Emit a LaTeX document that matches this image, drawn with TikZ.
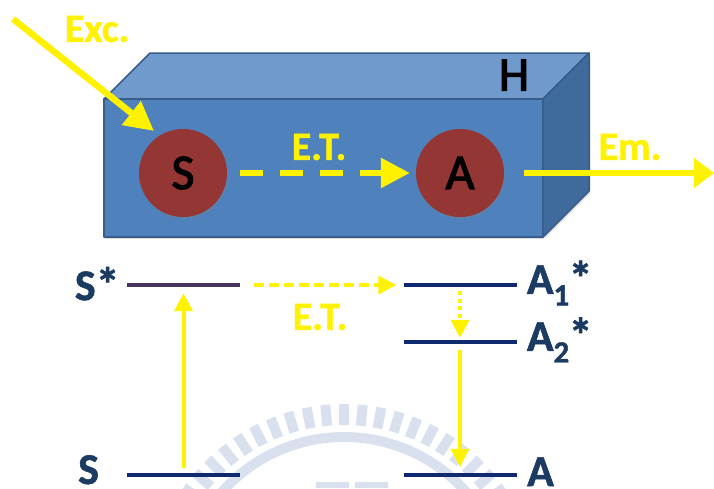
\documentclass[tikz,border=0pt]{standalone}
\usepackage{fontspec}
\setmainfont[BoldFeatures={FakeBold=1.2}]{Carlito}
\newfontfamily\dyefont[FakeBold=2.5]{Carlito}
\usetikzlibrary{arrows.meta,shadows}
\definecolor{frontblue}{HTML}{4F81BD}
\definecolor{topblue}{HTML}{7099CC}
\definecolor{sideblue}{HTML}{3F6A9C}
\definecolor{edgeblue}{HTML}{385D8A}
\definecolor{dotred}{HTML}{943634}
\definecolor{levelblue}{HTML}{0F2A6E}
\definecolor{levelpurple}{HTML}{46365C}
\definecolor{textblue}{HTML}{1B3B62}
\definecolor{sealblue}{HTML}{D9E0EE}
\newcommand{\levelstar}{\raisebox{-1pt}{\fontsize{48}{48}\selectfont *}}
\begin{document}
\begin{tikzpicture}[x=1pt,y=-1pt]

			\tikzstyle{face}=[draw=edgeblue,line width=1.5pt,line join=round]
			\tikzstyle{dye}=[circle,fill=dotred,text=black,
				minimum size=88pt,inner sep=0pt,
				node distance=277pt,
				drop shadow={shadow xshift=1pt,shadow yshift=-1.5pt,opacity=0.35},
				font=\fontsize{50}{50}\selectfont\dyefont]
			\tikzstyle{level}=[fill=levelblue,inner sep=0pt,
				minimum width=113pt,minimum height=4pt,
				node distance=276.5pt]
			\tikzstyle{levelname}=[text=textblue,inner sep=0pt,
				font=\fontsize{44}{44}\selectfont\bfseries]
			\tikzstyle{yellowname}=[text=yellow,inner sep=0pt,
				font=\fontsize{40}{40}\selectfont\bfseries]
			\tikzstyle{bigarrow}=[yellow,line width=6pt,
				-{Triangle[length=29pt,width=29pt]}]
			\tikzstyle{thinarrow}=[yellow,line width=4pt,
				-{Triangle[length=18pt,width=18pt]}]

			\useasboundingbox (0,0) rectangle (714,488);

			% seal behind the levels
			\begin{scope}
				\clip (0,0) rectangle (714,488);
				\foreach \a in {182,187.5,...,358}
					\draw[sealblue,line width=10pt] (344,600) ++(\a:175) -- ++(\a:21);
				\draw[sealblue,line width=10pt] (344,600) circle[radius=163];
				\fill[sealblue] (316,482) rectangle (349,488);
				\fill[sealblue] (355,482) rectangle (388,488);
			\end{scope}

			% host block
			\fill[topblue,face,drop shadow={shadow xshift=1pt,shadow yshift=-1.5pt,opacity=0.3}]
				(104,99) -- (150,53) -- (589,53) -- (543,99) -- cycle;
			\fill[sideblue,face,drop shadow={shadow xshift=1.5pt,shadow yshift=-1.5pt,opacity=0.3}]
				(543,99) -- (589,53) -- (589,191) -- (543,237) -- cycle;
			\fill[frontblue,face,drop shadow={shadow xshift=1pt,shadow yshift=-1.5pt,opacity=0.3}]
				(104,99) rectangle (543,237);

			\node[text=black,inner sep=0pt,font=\fontsize{48}{48}\selectfont\dyefont]
				(host) at (514,75) {H};
			\node[dye]		(S)	at (183,173)	{S};
			\node[dye,right of=S]	(A)	{A};

			\coordinate (excstart) at (13,19);
			\coordinate (exctip) at (154,131);
			\coordinate (emtip) at (714,173);

			\draw[bigarrow,line width=6.5pt] (excstart) -- (exctip);
			\draw[bigarrow,
				-{Triangle[length=29pt,width=29pt]},dash pattern=on 23pt off 17pt,
				shorten <=13pt,shorten >=6pt]
				(S) -- (A);
			\draw[bigarrow,-{Triangle[length=20pt,width=29pt]},shorten <=20pt]
				(A) -- (emtip);

			\node[yellowname] (exc) at (97,29) {Exc.};
			\node[yellowname] (et) at (319,147) {E.T.};
			\node[yellowname] (em) at (630,147) {Em.};

			% levels
			\node[level,fill=levelpurple]	(sstar) at (183.5,285) {};
			\node[level,right of=sstar]	(aone) {};
			\node[level,below of=aone,node distance=57pt]	(atwo) {};
			\node[level,below of=atwo,node distance=133pt]	(aground) {};
			\node[level,left of=aground]	(sground) {};

			\node[levelname,anchor=east]	(sstarname) at ([xshift=-7pt,yshift=1pt]sstar.west) {S\levelstar};
			\node[levelname,anchor=base west]	(sgroundname) at (78,484) {S};
			\node[levelname,anchor=west]	(aonename) at ([xshift=10pt,yshift=2pt]aone.east) {A\textsubscript{1}\kern-1pt\levelstar};
			\node[levelname,anchor=west]	(atwoname) at ([xshift=10pt,yshift=2pt]atwo.east) {A\textsubscript{2}\kern-1pt\levelstar};
			\node[levelname,anchor=base west]	(agroundname) at (527,486) {A};

			\draw[thinarrow,shorten <=5pt,shorten >=6pt] (sground) -- (sstar);
			\draw[thinarrow,dash pattern=on 10pt off 5pt,shorten <=14pt,shorten >=7pt]
				(sstar) -- (aone);
			\draw[thinarrow,dash pattern=on 4pt off 3.5pt,shorten <=4pt,shorten >=2pt]
				(aone) -- (atwo);
			\draw[thinarrow,line width=3.5pt,shorten <=6pt,shorten >=6pt] (atwo) -- (aground);

			\node[yellowname] (etlower) at (320,317) {E.T.};

		\end{tikzpicture}
\end{document}
